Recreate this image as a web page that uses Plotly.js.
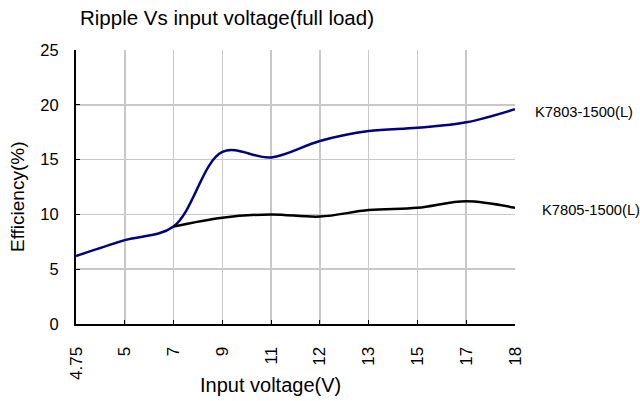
<!DOCTYPE html>
<html>
<head>
<meta charset="utf-8">
<script src="https://cdn.plot.ly/plotly-3.0.1.min.js"></script>
<style>html,body{margin:0;padding:0;background:#fff}#chart{width:640px;height:401px}</style>
</head>
<body>
<div id="chart"></div>
<script>
var categories = ["4.75","5","7","9","11","12","13","15","17","18"];
var k7803 = [6.2, 7.65, 8.9, 15.7, 15.2, 16.7, 17.6, 17.9, 18.4, 19.6];
var k7805 = [null, null, 8.9, 9.7, 10.0, 9.8, 10.4, 10.6, 11.2, 10.6];
var seriesNames = ["K7803-1500(L)", "K7805-1500(L)"];
var yTicks = [0, 5, 10, 15, 20, 25];

var font = "Liberation Sans, Arial, sans-serif";
var traces = [
  {x: categories, y: k7803, type: "scatter", mode: "lines", name: seriesNames[0],
   line: {color: "#000080", width: 2.5, shape: "spline", smoothing: 1}},
  {x: categories, y: k7805, type: "scatter", mode: "lines", name: seriesNames[1],
   line: {color: "#000000", width: 2.5, shape: "spline", smoothing: 1}}
];
var layout = {
  width: 640, height: 401,
  margin: {l: 76, r: 125, t: 50, b: 77},
  paper_bgcolor: "#fff", plot_bgcolor: "#fff",
  showlegend: false,
  font: {family: font, color: "#000", size: 16},
  title: {text: "Ripple Vs input voltage(full load)", x: 227/640, xanchor: "center", y: 1 - 18/401, yanchor: "middle",
          font: {family: font, size: 20.5, color: "#000"}},
  xaxis: {type: "category", range: [0, 9], showgrid: true, gridcolor: "#c8c8c8", gridwidth: 1.5,
          showline: true, linecolor: "#000", linewidth: 2, ticks: "inside", ticklen: 4, tickcolor: "#000",
          tickangle: -90, tickfont: {size: 17}, ticklabelstandoff: 14, zeroline: false},
  yaxis: {range: [0, 25], tickvals: yTicks, showgrid: true, gridcolor: "#c8c8c8", gridwidth: 1.5,
          showline: true, linecolor: "#000", linewidth: 2, ticks: "inside", ticklen: 4, tickcolor: "#000",
          tickfont: {size: 16.5}, ticklabelstandoff: 12, zeroline: false},
  annotations: [
    {text: "Input voltage(V)", xref: "paper", yref: "paper", x: 0.442, y: -0.2226,
     xanchor: "center", yanchor: "middle", showarrow: false, font: {size: 20}},
    {text: "Efficiency(%)", xref: "paper", yref: "paper", x: -0.1344, y: 0.467, textangle: -90,
     xanchor: "center", yanchor: "middle", showarrow: false, font: {size: 19}},
    {text: seriesNames[0], xref: "paper", yref: "y", x: 1.041, y: 19.34, xanchor: "left", yanchor: "middle",
     showarrow: false, font: {size: 14.7}},
    {text: seriesNames[1], xref: "paper", yref: "y", x: 1.057, y: 10.4, xanchor: "left", yanchor: "middle",
     showarrow: false, font: {size: 14.7}}
  ]
};
Plotly.newPlot("chart", traces, layout, {staticPlot: true});
</script>
</body>
</html>
